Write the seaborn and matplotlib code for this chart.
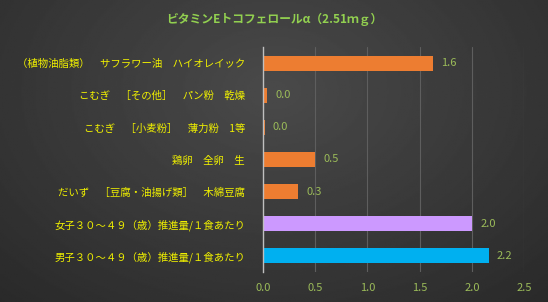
import numpy as np
import pandas as pd
import matplotlib
matplotlib.use("Agg")
import matplotlib.pyplot as plt
import seaborn as sns

# ---------------------------------------------
# Data
# ---------------------------------------------
title = "ビタミンEトコフェロールα（2.51ｍｇ）"
foods = [
    "（植物油脂類）　サフラワー油　ハイオレイック",
    "こむぎ　［その他］　パン粉　乾燥",
    "こむぎ　［小麦粉］　薄力粉　1等",
    "鶏卵　全卵　生",
    "だいず　［豆腐・油揚げ類］　木綿豆腐",
    "女子３０～４９（歳）推進量/１食あたり",
    "男子３０～４９（歳）推進量/１食あたり",
]
amounts = [1.63, 0.04, 0.015, 0.50, 0.34, 2.00, 2.16]
kinds = ["food", "food", "food", "food", "food", "female", "male"]
x_ticks = [0.0, 0.5, 1.0, 1.5, 2.0, 2.5]

df = pd.DataFrame({"food": foods, "amount": amounts, "kind": kinds})

# ---------------------------------------------
# Style
# ---------------------------------------------
sns.set_theme(style="dark")
plt.rcParams['font.family'] = ['Noto Sans CJK JP', 'DejaVu Sans']

fig = plt.figure(figsize=(5.48, 3.02), dpi=100)

# dark radial background
bg = fig.add_axes([0, 0, 1, 1], zorder=-10)
yy, xx = np.mgrid[0:1:200j, 0:1:360j]
r = np.sqrt(((xx - 0.5) / 0.7) ** 2 + ((yy - 0.3) / 0.9) ** 2)
bg.imshow(0.29 - 0.12 * r, cmap="gray", vmin=0, vmax=1, aspect="auto",
          extent=[0, 1, 1, 0])
bg.axis("off")

ax = fig.add_axes([263 / 548, 30 / 302, 261 / 548, 225 / 302])
ax.patch.set_alpha(0)

sns.barplot(
    data=df, y="food", x="amount", hue="kind", dodge=False, legend=False,
    palette={"food": "#ed7d31", "female": "#cc99ff", "male": "#00b0f0"},
    width=0.47, saturation=1, edgecolor="none", linewidth=0, ax=ax,
)

for i, v in enumerate(amounts):
    ax.text(v + 0.08, i, f"{v:.1f}", va="center", ha="left",
            color="#9bbb59", fontsize=8)

ax.set_xlim(0, 2.5)
ax.set_xticks(x_ticks)
ax.set_xticklabels([f"{t:.1f}" for t in x_ticks], color="#9bbb59", fontsize=8)
ax.tick_params(axis="y", colors="#f0f000", labelsize=7.5, length=0, pad=13)
ax.tick_params(axis="x", length=0, pad=8)
ax.set_xlabel("")
ax.set_ylabel("")
ax.grid(axis="x", color="#5e5e5e", linewidth=0.8)
ax.set_axisbelow(True)
for s in ["top", "right", "bottom"]:
    ax.spines[s].set_visible(False)
ax.spines["left"].set_color("#bfbfbf")
ax.spines["left"].set_linewidth(1)

fig.text(0.5, 0.935, title, ha="center", va="center", color="#92d050",
         fontsize=8.5, fontweight="bold")

plt.savefig("out.png", dpi=100)
